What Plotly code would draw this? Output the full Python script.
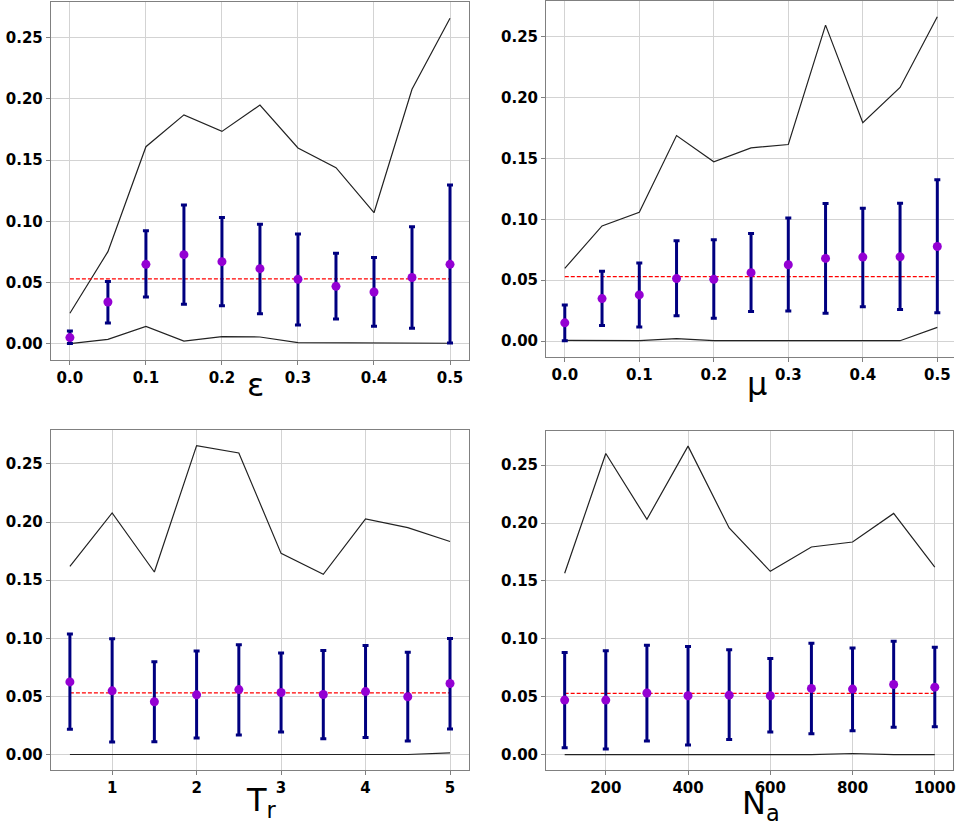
import plotly.graph_objects as go

# ---------------- data ----------------
eps_x = [0.0, 0.05, 0.1, 0.15, 0.2, 0.25, 0.3, 0.35, 0.4, 0.45, 0.5]
eps_mean = [0.0049, 0.034, 0.0648, 0.0727, 0.067, 0.0613, 0.0526, 0.0468, 0.0422, 0.054, 0.0648]
eps_hi = [0.0103, 0.0507, 0.0923, 0.1133, 0.1032, 0.0975, 0.0896, 0.0738, 0.0703, 0.0956, 0.1296]
eps_lo = [0.0, 0.0169, 0.0381, 0.0321, 0.031, 0.0245, 0.0153, 0.0202, 0.0142, 0.0125, 0.0005]
eps_max = [0.0248, 0.0752, 0.161, 0.187, 0.1735, 0.195, 0.160, 0.1438, 0.107, 0.208, 0.266]
eps_min = [0.0, 0.0035, 0.014, 0.002, 0.0057, 0.0054, 0.0008, 0.0008, 0.0008, 0.0008, 0.0003]

mu_x = [0.0, 0.05, 0.1, 0.15, 0.2, 0.25, 0.3, 0.35, 0.4, 0.45, 0.5]
mu_mean = [0.015, 0.0349, 0.0379, 0.0513, 0.0507, 0.0562, 0.0627, 0.0679, 0.069, 0.0692, 0.0777]
mu_hi = [0.0297, 0.0573, 0.0641, 0.0823, 0.0832, 0.0883, 0.1011, 0.1129, 0.109, 0.1131, 0.1325]
mu_lo = [0.0003, 0.0128, 0.0115, 0.0207, 0.0188, 0.0243, 0.0248, 0.0229, 0.0281, 0.0259, 0.0232]
mu_max = [0.0597, 0.0946, 0.1058, 0.1688, 0.1472, 0.1587, 0.1614, 0.2595, 0.1794, 0.2083, 0.2664]
mu_min = [0.0005, 0.0003, 0.0003, 0.002, 0.0003, 0.0003, 0.0003, 0.0003, 0.0003, 0.0003, 0.0112]

tr_x = [0.5, 1.0, 1.5, 2.0, 2.5, 3.0, 3.5, 4.0, 4.5, 5.0]
tr_mean = [0.0625, 0.0548, 0.0454, 0.0514, 0.0559, 0.0534, 0.0517, 0.0542, 0.0497, 0.0611]
tr_hi = [0.1036, 0.0996, 0.0799, 0.089, 0.0945, 0.0873, 0.0896, 0.0939, 0.0879, 0.0999]
tr_lo = [0.0217, 0.0108, 0.0111, 0.0143, 0.0168, 0.0194, 0.0137, 0.0148, 0.0117, 0.022]
tr_max = [0.1618, 0.2078, 0.157, 0.2657, 0.2594, 0.173, 0.155, 0.2026, 0.1952, 0.1832]
tr_min = [0.0001, 0.0001, 0.0001, 0.0001, 0.0001, 0.0001, 0.0001, 0.0001, 0.0001, 0.0014]

na_x = [100, 200, 300, 400, 500, 600, 700, 800, 900, 1000]
na_mean = [0.0471, 0.0471, 0.0532, 0.0509, 0.0514, 0.0509, 0.0572, 0.0566, 0.0606, 0.0583]
na_hi = [0.0882, 0.0897, 0.0945, 0.0934, 0.0905, 0.083, 0.0963, 0.0922, 0.098, 0.0928]
na_lo = [0.006, 0.0049, 0.0118, 0.0083, 0.0132, 0.0195, 0.0181, 0.0207, 0.0236, 0.0241]
na_max = [0.1566, 0.26, 0.2032, 0.2664, 0.1957, 0.1583, 0.1793, 0.1836, 0.2083, 0.162]
na_min = [0.0001, 0.0001, 0.0001, 0.0001, 0.0001, 0.0001, 0.0001, 0.001, 0.0001, 0.0001]

ref_level = 0.053

labels = ["ε", "μ", "T<sub>r</sub>", "N<sub>a</sub>"]
y_ticks = [0.0, 0.05, 0.10, 0.15, 0.20, 0.25]

panels = [
    (eps_x, eps_mean, eps_hi, eps_lo, eps_max, eps_min),
    (mu_x, mu_mean, mu_hi, mu_lo, mu_max, mu_min),
    (tr_x, tr_mean, tr_hi, tr_lo, tr_max, tr_min),
    (na_x, na_mean, na_hi, na_lo, na_max, na_min),
]

# ---------------- layout geometry (pixels) ----------------
W, H = 956, 826
# (left, right, top, bottom) in px
boxes = [(51, 470, 1, 359.3), (547.3, 956, 0, 356.7), (51, 470, 429.3, 770), (547.3, 955.3, 430.7, 770)]
x_ranges = [[-0.025, 0.525], [-0.025, 0.5224], [0.275, 5.225], [55, 1045]]
x_ticks = [[0, 0.1, 0.2, 0.3, 0.4, 0.5], [0, 0.1, 0.2, 0.3, 0.4, 0.5], [1, 2, 3, 4, 5], [200, 400, 600, 800, 1000]]
x_fmt = [".1f", ".1f", "d", "d"]
label_pos = [(256, 384), (759, 383), (262, 802), (763, 805)]

fig = go.Figure()
tick_font = dict(family="DejaVu Sans", size=15, color="black", weight="bold")

for i, (xs, mean, hi, lo, mx, mn) in enumerate(panels):
    n = i + 1
    xa = "x" if n == 1 else f"x{n}"
    ya = "y" if n == 1 else f"y{n}"
    fig.add_trace(go.Scatter(x=xs, y=mx, mode="lines", line=dict(color="#222222", width=1.2),
                             xaxis=xa, yaxis=ya, showlegend=False))
    fig.add_trace(go.Scatter(x=xs, y=mn, mode="lines", line=dict(color="#222222", width=1.2),
                             xaxis=xa, yaxis=ya, showlegend=False))
    fig.add_trace(go.Scatter(x=[xs[0], xs[-1]], y=[ref_level, ref_level], mode="lines",
                             line=dict(color="red", width=1.3, dash="4px,2px"),
                             xaxis=xa, yaxis=ya, showlegend=False))
    plus = [h - m for h, m in zip(hi, mean)]
    minus = [m - l for m, l in zip(mean, lo)]
    fig.add_trace(go.Scatter(x=xs, y=mean, mode="markers",
                             marker=dict(color="#9400D3", size=9),
                             error_y=dict(type="data", symmetric=False, array=plus, arrayminus=minus,
                                          color="#000080", thickness=3, width=3),
                             xaxis=xa, yaxis=ya, showlegend=False))

    l, r, t, b = boxes[i]
    xkey = "xaxis" if n == 1 else f"xaxis{n}"
    ykey = "yaxis" if n == 1 else f"yaxis{n}"
    fig.update_layout(**{
        xkey: dict(domain=[l / W, r / W], range=x_ranges[i], anchor=ya,
                   tickvals=x_ticks[i], tickformat=x_fmt[i], tickfont=tick_font,
                   ticklabeloverflow="allow",
                   showgrid=True, gridcolor="#d3d3d3", gridwidth=1,
                   showline=True, linecolor="#808080", linewidth=1.2, mirror=True,
                   ticks="outside", ticklen=4, tickcolor="#808080", zeroline=False),
        ykey: dict(domain=[1 - b / H, 1 - t / H], range=[-0.0133, 0.2793], anchor=xa,
                   tickvals=y_ticks, tickformat=".2f", tickfont=tick_font,
                   ticklabeloverflow="allow",
                   showgrid=True, gridcolor="#d3d3d3", gridwidth=1,
                   showline=True, linecolor="#808080", linewidth=1.2, mirror=(n != 2),
                   ticks="outside", ticklen=4, tickcolor="#808080", zeroline=False),
    })
    lx, ly = label_pos[i]
    fig.add_annotation(text=labels[i], x=lx / W, y=1 - ly / H, xref="paper", yref="paper",
                       showarrow=False, xanchor="center", yanchor="middle",
                       font=dict(family="DejaVu Sans", size=32, color="black"))

fig.update_layout(width=W, height=H, margin=dict(l=0, r=0, t=0, b=0),
                  paper_bgcolor="white", plot_bgcolor="white")

fig.write_html("out.html", config={"displayModeBar": False},
               post_script="document.body.style.margin='0px';document.body.style.overflow='hidden';")
